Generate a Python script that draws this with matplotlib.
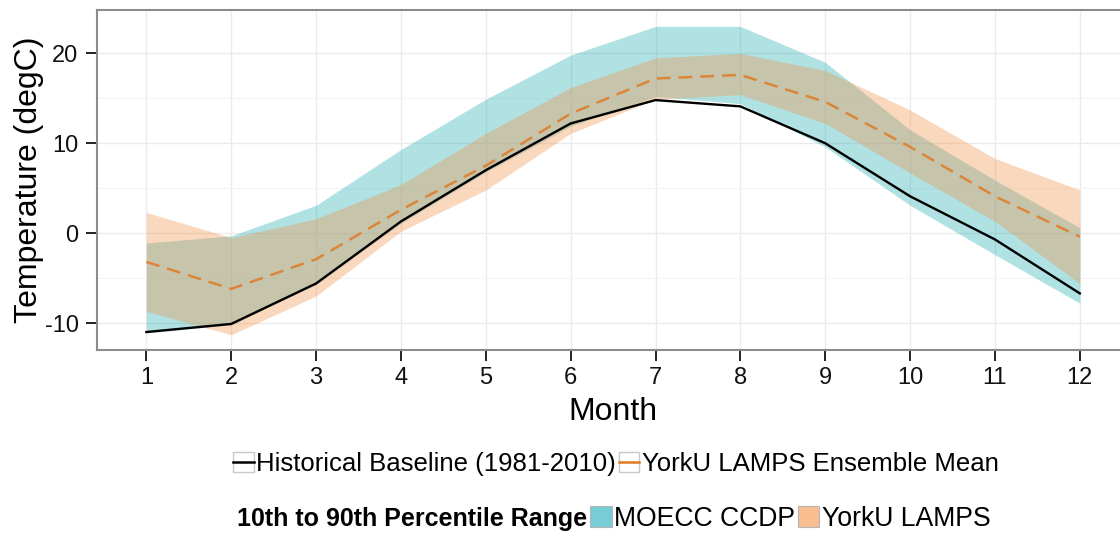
import numpy as np
import matplotlib.pyplot as plt
from matplotlib.lines import Line2D
from matplotlib.patches import Rectangle

plt.rcParams['font.family'] = ['Liberation Sans', 'DejaVu Sans']
plt.rcParams['axes.unicode_minus'] = False

# Data
months = np.arange(1, 13)
baseline = [-11.0, -10.1, -5.6, 1.3, 7.0, 12.2, 14.8, 14.1, 10.0, 4.1, -0.7, -6.7]
york_mean = [-3.2, -6.2, -2.9, 2.6, 7.5, 13.3, 17.2, 17.6, 14.6, 9.6, 4.1, -0.4]
moecc_lo = [-11.1, -10.2, -5.7, 1.1, 6.8, 11.9, 15.2, 14.4, 9.6, 3.1, -2.4, -7.8]
moecc_hi = [-1.1, -0.3, 3.1, 9.3, 14.9, 19.8, 23.0, 23.0, 19.0, 11.5, 5.9, 0.6]
york_lo = [-8.7, -11.3, -7.0, 0.2, 4.8, 11.1, 14.9, 15.4, 12.2, 6.7, 1.3, -5.6]
york_hi = [2.3, -0.5, 1.6, 5.4, 11.1, 16.2, 19.5, 20.0, 18.1, 13.7, 8.3, 4.8]

teal = '#1dacb2'
orange = '#f19045'
line_orange = '#e07a25'

fig = plt.figure(figsize=(11.2, 5.36), dpi=100)
ax = fig.add_axes([0.0863, 0.347, 0.9222, 0.634])

ax.fill_between(months, moecc_lo, moecc_hi, color=teal, alpha=0.35, lw=0)
ax.fill_between(months, york_lo, york_hi, color=orange, alpha=0.35, lw=0)
ax.plot(months, baseline, color='black', lw=1.7)
ax.plot(months, york_mean, color=line_orange, lw=1.8, ls=(0, (5.5, 3.2)), alpha=0.85)

ax.set_xlim(0.414, 12.586)
ax.set_ylim(-13.0, 24.8)
ax.set_xticks(months)
ax.set_yticks([-10, 0, 10, 20])
ax.set_yticks([-5, 5, 15], minor=True)
ax.grid(True, which='major', color='#ebebeb', lw=1.0)
ax.grid(True, which='minor', axis='y', color='#f4f4f4', lw=0.8)
ax.set_axisbelow(True)
ax.tick_params(which='minor', length=0)
ax.tick_params(which='major', length=8, width=1.4, color='#222222',
               labelsize=17, labelcolor='#111111', direction='out')
ax.tick_params(axis='y', pad=5)
ax.tick_params(axis='x', pad=4)
for s in ax.spines.values():
    s.set_color('#8c8c8c')
    s.set_linewidth(1.5)

ax.set_xlabel('Month', fontsize=23, labelpad=6)
ax.set_ylabel('Temperature (degC)', fontsize=23, labelpad=0.5)

# legend row 1: lines
box = dict(facecolor='white', edgecolor='#c8c8c8', lw=1.0)
h1 = (Rectangle((0, 0), 1, 1, **box), Line2D([], [], color='black', lw=1.8))
h2 = (Rectangle((0, 0), 1, 1, **box), Line2D([], [], color=line_orange, lw=1.8))
fig.legend([h1, h2], ['Historical Baseline (1981-2010)', 'YorkU LAMPS Ensemble Mean'],
           loc='center', bbox_to_anchor=(0.55, 0.134), ncol=2, frameon=False,
           fontsize=18.5, handlelength=0.8, handleheight=0.8, handletextpad=0.1,
           columnspacing=0.1, borderpad=0)

# legend row 2: percentile ranges
fig.text(0.2116, 0.032, '10th to 90th Percentile Range', fontsize=18,
         fontweight='bold', ha='left', va='center')
p1 = Rectangle((0, 0), 1, 1, facecolor='#76cdd5', edgecolor='#b5b5b5', lw=0.8)
p2 = Rectangle((0, 0), 1, 1, facecolor='#f9be8f', edgecolor='#b5b5b5', lw=0.8)
fig.legend([p1, p2], ['MOECC CCDP', 'YorkU LAMPS'],
           loc='center left', bbox_to_anchor=(0.527, 0.032), ncol=2, frameon=False,
           fontsize=19.2, handlelength=0.8, handleheight=0.8, handletextpad=0.1,
           columnspacing=0.1, borderpad=0, borderaxespad=0)

fig.savefig('out.png', dpi=100)
